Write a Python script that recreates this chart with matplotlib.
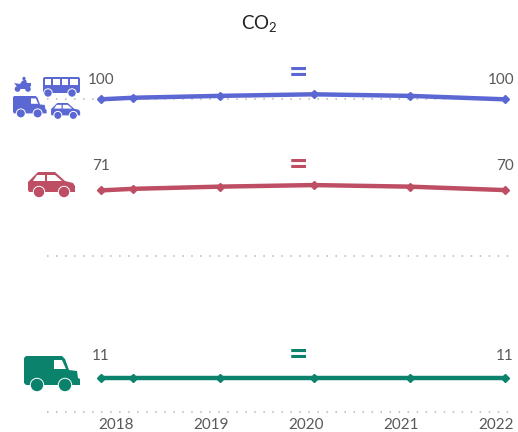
import matplotlib
matplotlib.use('Agg')
import matplotlib.pyplot as plt
from matplotlib.patches import Circle, FancyBboxPatch, Polygon, Rectangle

# Data
years = [2018, 2019, 2020, 2021, 2022]
x_points = [2017.84, 2018.18, 2019.09, 2020.08, 2021.09, 2022.09]
all_vehicles = [99.9, 100.4, 101.0, 101.5, 101.0, 99.9]
cars = [70.8, 71.3, 72.0, 72.5, 72.0, 70.9]
vans = [10.9, 10.9, 10.9, 10.9, 10.9, 10.9]
first_labels = ['100', '71', '11']
last_labels = ['100', '70', '11']
grid_values = [100, 50, 0]

BLUE = '#5B67D2'
RED = '#BE4E64'
GREEN = '#0A826C'
GREY = '#595959'

plt.rcParams['font.family'] = ['Lato', 'DejaVu Sans']
plt.rcParams['mathtext.fontset'] = 'custom'
plt.rcParams['mathtext.rm'] = 'Lato'
plt.rcParams['mathtext.default'] = 'regular'

fig = plt.figure(figsize=(5.18, 4.32), dpi=100)

# Axes fills the figure so ticks and lines land where they do in the picture
ax = fig.add_axes([0, 0, 1, 1])
px_per_year = 95
px_per_unit = 3.13
ax.set_xlim(2018 - 116 / px_per_year, 2018 + (518 - 116) / px_per_year)
ax.set_ylim(-20 / px_per_unit, 412 / px_per_unit)
ax.axis('off')

# Overlay in pixels, for icons and labels
ov = fig.add_axes([0, 0, 1, 1])
ov.set_xlim(0, 518)
ov.set_ylim(432, 0)
ov.axis('off')
ov.patch.set_alpha(0)

# Dotted gridlines
for g in grid_values:
    ax.plot([2018 - 69 / px_per_year, 2018 + 396 / px_per_year], [g, g],
            color='#B5B5B5', linewidth=1.1, linestyle=(0, (1, 4.9)), zorder=1)

# Series
for values, color in [(all_vehicles, BLUE), (cars, RED), (vans, GREEN)]:
    ax.plot(x_points, values, color=color, linewidth=3.2, marker='D',
            markersize=4.2, zorder=3)


def wheel(x, y, r, color):
    ov.add_patch(Circle((x, y), r + 1, color='white', zorder=5))
    ov.add_patch(Circle((x, y), r, color=color, zorder=6))


def van(x, y, s, color):
    # x, y is the top left corner, s scales from a 56 wide icon
    pts = [(0, 2), (2, 0), (38, 0), (41, 3), (45, 14), (53, 15), (54, 22),
           (56, 23), (56, 29), (2, 29), (0, 27)]
    ov.add_patch(Polygon([(x + a * s, y + b * s) for a, b in pts], color=color, lw=0, zorder=4))
    win = [(30, 4), (38, 4), (42, 13), (30, 13)]
    ov.add_patch(Polygon([(x + a * s, y + b * s) for a, b in win], color='white', lw=0, zorder=5))
    wheel(x + 13 * s, y + 29 * s, 5.5 * s, color)
    wheel(x + 41 * s, y + 29 * s, 5.5 * s, color)


def car(x, y, s, color):
    # 47 wide icon
    pts = [(0, 10), (2, 8), (10, 0), (27, 0), (37, 9), (45, 11), (47, 14),
           (47, 20), (1, 20), (0, 18)]
    ov.add_patch(Polygon([(x + a * s, y + b * s) for a, b in pts], color=color, lw=0, zorder=4))
    for win in ([(5, 9), (9, 3), (17, 3), (17, 9)], [(19, 3), (27, 3), (34, 9), (19, 9)]):
        ov.add_patch(Polygon([(x + a * s, y + b * s) for a, b in win], color='white', lw=0, zorder=5))
    wheel(x + 11 * s, y + 20 * s, 4.5 * s, color)
    wheel(x + 36 * s, y + 20 * s, 4.5 * s, color)


def bus(x, y, color):
    # 37 wide icon
    ov.add_patch(FancyBboxPatch((x, y), 37, 16, boxstyle='round,pad=0,rounding_size=2',
                                color=color, lw=0, zorder=4))
    for wx, w in [(2, 6), (10, 7), (19, 6), (27, 8)]:
        ov.add_patch(Rectangle((x + wx, y + 1.5), w, 6, color='white', lw=0, zorder=5))
    wheel(x + 5, y + 16, 3, color)
    wheel(x + 29, y + 16, 3, color)


def moto(x, y, color):
    body = [(0, 6), (6, 7), (8, 4), (10, 3), (12, 3), (13, 6), (17, 6), (17, 9),
            (13, 12), (5, 12)]
    ov.add_patch(Polygon([(x + a, y + b) for a, b in body], color=color, lw=0, zorder=4))
    ov.add_patch(Circle((x + 10, y + 1.5), 1.7, color=color, lw=0, zorder=4))
    ov.add_patch(Circle((x + 3.5, y + 12), 2.8, color=color, lw=0, zorder=5))
    ov.add_patch(Circle((x + 14, y + 12), 2.8, color=color, lw=0, zorder=5))


moto(14, 77, BLUE)
bus(43, 77, BLUE)
van(13, 96, 0.6, BLUE)
car(51, 103, 0.62, BLUE)
car(28, 172, 1.0, RED)
van(24, 356, 1.0, GREEN)

# Value labels at both ends
for y, first, last in zip([80, 166, 356], first_labels, last_labels):
    ov.text(101, y, first, ha='center', va='center', fontsize=11, color=GREY)
    ov.text(514, y, last, ha='right', va='center', fontsize=11, color=GREY)

# Trend marks
for y, color in [(73, BLUE), (166, RED), (356, GREEN)]:
    ov.text(298, y, '=', ha='center', va='center', fontsize=24, fontweight='bold', color=color)

# Year labels
for yr in years:
    ax.text(yr, -4.15, str(yr), ha='center', va='center', fontsize=11, color=GREY)

ov.text(259, 23, r'CO$_2$', ha='center', va='center', fontsize=13.5, color='#222222')

fig.savefig('out.png', dpi=100)
